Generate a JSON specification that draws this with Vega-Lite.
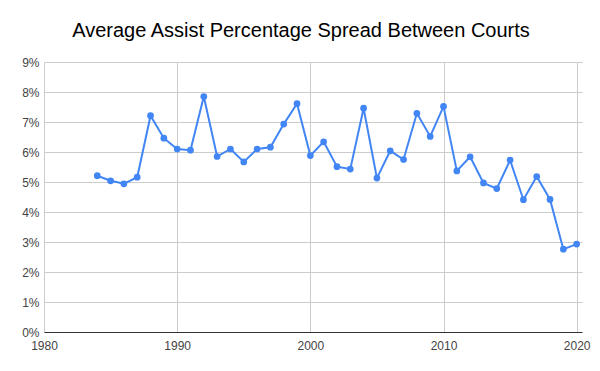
{
  "$schema": "https://vega.github.io/schema/vega-lite/v6.json",
  "autosize": "none",
  "padding": {"left": 44, "top": 62, "right": 18, "bottom": 39},
  "width": 538,
  "height": 270,
  "background": "white",
  "title": {
    "text": "Average Assist Percentage Spread Between Courts",
    "font": "Liberation Sans",
    "fontSize": 20,
    "fontWeight": "normal",
    "color": "#000000",
    "anchor": "middle",
    "frame": "group",
    "dx": -12,
    "dy": 25,
    "offset": 24,
    "baseline": "alphabetic"
  },
  "config": {
    "view": {"stroke": null},
    "axis": {
      "labelFont": "Liberation Sans",
      "labelFontSize": 12,
      "labelColor": "#444444",
      "gridColor": "#cccccc",
      "gridWidth": 1,
      "ticks": false,
      "title": null,
      "labelOverlap": false
    }
  },
  "data": {
    "values": [
      {"year": 1984, "spread": 0.0521},
      {"year": 1985, "spread": 0.0504},
      {"year": 1986, "spread": 0.0494},
      {"year": 1987, "spread": 0.0516},
      {"year": 1988, "spread": 0.0721},
      {"year": 1989, "spread": 0.0646},
      {"year": 1990, "spread": 0.0610},
      {"year": 1991, "spread": 0.0606},
      {"year": 1992, "spread": 0.0785},
      {"year": 1993, "spread": 0.0585},
      {"year": 1994, "spread": 0.0610},
      {"year": 1995, "spread": 0.0567},
      {"year": 1996, "spread": 0.0610},
      {"year": 1997, "spread": 0.0616},
      {"year": 1998, "spread": 0.0693},
      {"year": 1999, "spread": 0.0761},
      {"year": 2000, "spread": 0.0588},
      {"year": 2001, "spread": 0.0634},
      {"year": 2002, "spread": 0.0551},
      {"year": 2003, "spread": 0.0543},
      {"year": 2004, "spread": 0.0746},
      {"year": 2005, "spread": 0.0513},
      {"year": 2006, "spread": 0.0604},
      {"year": 2007, "spread": 0.0575},
      {"year": 2008, "spread": 0.0729},
      {"year": 2009, "spread": 0.0652},
      {"year": 2010, "spread": 0.0752},
      {"year": 2011, "spread": 0.0537},
      {"year": 2012, "spread": 0.0584},
      {"year": 2013, "spread": 0.0497},
      {"year": 2014, "spread": 0.0478},
      {"year": 2015, "spread": 0.0573},
      {"year": 2016, "spread": 0.0441},
      {"year": 2017, "spread": 0.0518},
      {"year": 2018, "spread": 0.0442},
      {"year": 2019, "spread": 0.0276},
      {"year": 2020, "spread": 0.0293}
    ]
  },
  "mark": {"type": "line", "color": "#4285F4", "strokeWidth": 2, "point": {"filled": true, "size": 45, "color": "#4285F4"}},
  "encoding": {
    "x": {
      "field": "year",
      "type": "quantitative",
      "scale": {"domain": [1980, 2020.4], "nice": false, "zero": false},
      "axis": {"values": [1980, 1990, 2000, 2010, 2020], "format": "d", "labelPadding": 8, "labelFlush": false, "domain": true, "domainColor": "#333333", "domainWidth": 1}
    },
    "y": {
      "field": "spread",
      "type": "quantitative",
      "scale": {"domain": [0, 0.09], "nice": false},
      "axis": {"values": [0, 0.01, 0.02, 0.03, 0.04, 0.05, 0.06, 0.07, 0.08, 0.09], "format": ".0%", "labelPadding": 5, "domain": false}
    }
  }
}
